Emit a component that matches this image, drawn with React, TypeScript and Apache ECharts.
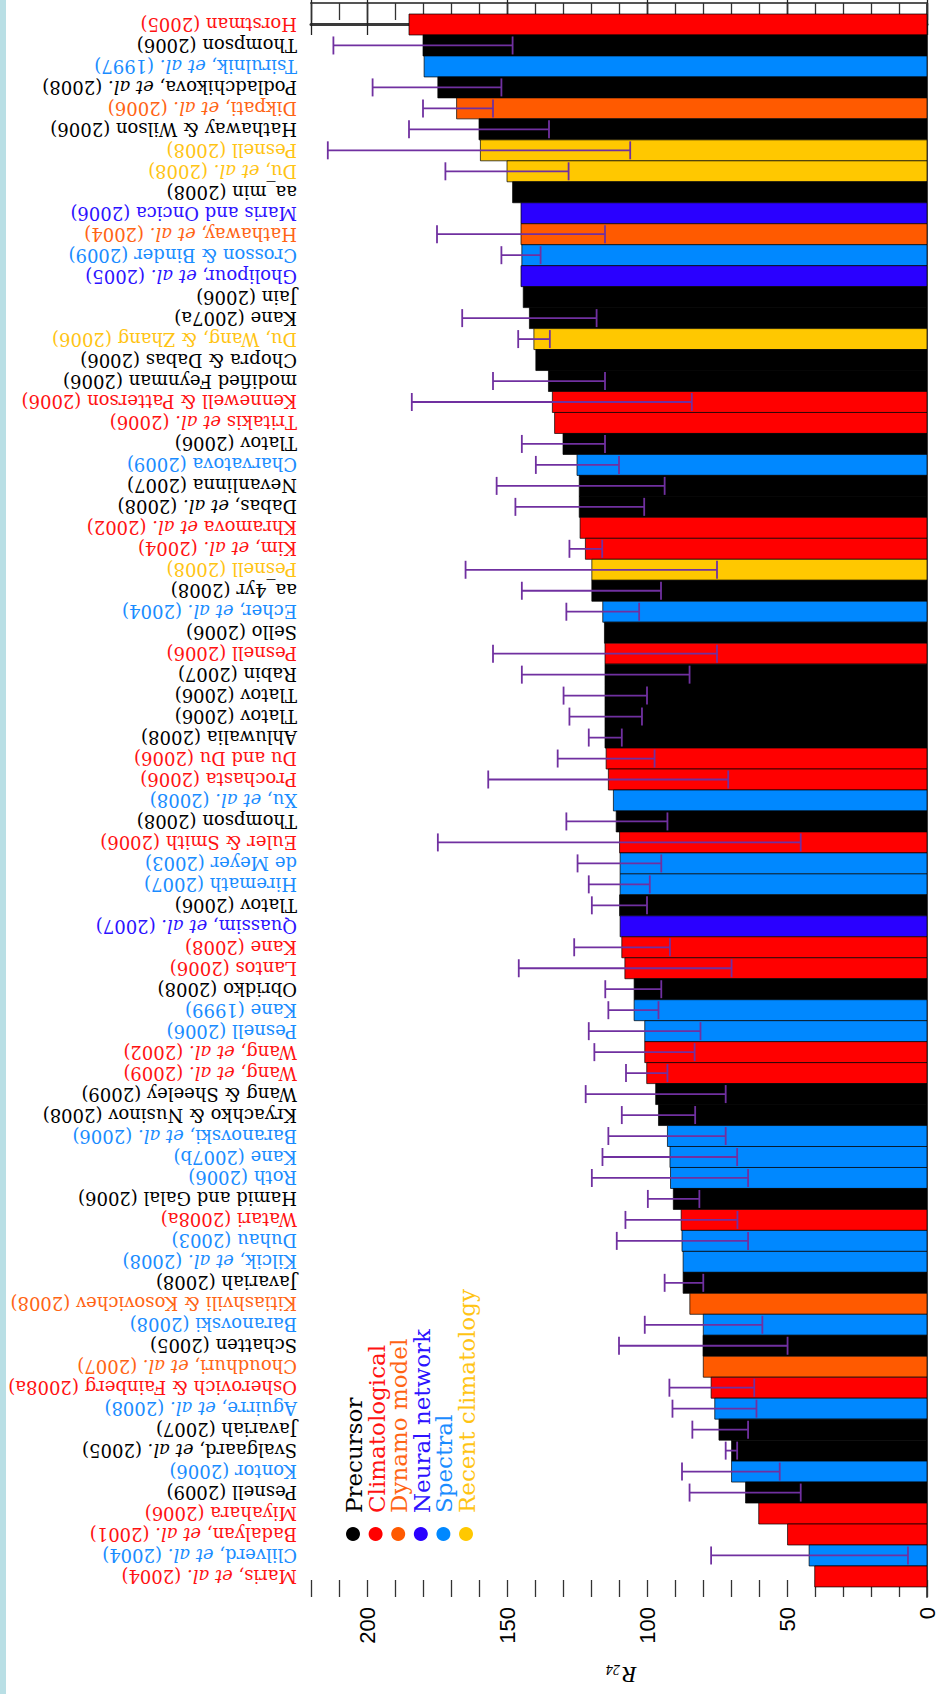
import React, { useEffect, useRef } from "react";
import * as echarts from "echarts";

const names = [
  "Horstman (2005)", "Thompson (2006)", "Tsirulnik, et al. (1997)", "Podladchikova, et al. (2008)",
  "Dikpati, et al. (2006)", "Hathaway & Wilson (2006)", "Pesnell (2008)", "Du, et al. (2008)",
  "aa_min (2008)", "Maris and Oncica (2006)", "Hathaway, et al. (2004)", "Crosson & Binder (2009)",
  "Gholipour, et al. (2005)", "Jain (2006)", "Kane (2007a)", "Du, Wang, & Zhang (2006)",
  "Chopra & Dabas (2006)", "modified Feynman (2006)", "Kennewell & Patterson (2006)", "Tritakis et al. (2006)",
  "Tlatov (2006)", "Charvatova (2009)", "Nevanlinna (2007)", "Dabas, et al. (2008)",
  "Khramova et al. (2002)", "Kim, et al. (2004)", "Pesnell (2008)", "aa_4yr (2008)",
  "Echer, et al. (2004)", "Sello (2006)", "Pesnell (2006)", "Rabin (2007)",
  "Tlatov (2006)", "Tlatov (2006)", "Ahluwalia (2008)", "Du and Du (2006)",
  "Prochasta (2006)", "Xu, et al. (2008)", "Thompson (2008)", "Euler & Smith (2006)",
  "de Meyer (2003)", "Hiremath (2007)", "Tlatov (2006)", "Quassim, et al. (2007)",
  "Kane (2008)", "Lantos (2006)", "Obridko (2008)", "Kane (1999)",
  "Pesnell (2006)", "Wang, et al. (2002)", "Wang, et al. (2009)", "Wang & Sheeley (2009)",
  "Kryachko & Nusinov (2008)", "Baranovski, et al. (2006)", "Kane (2007b)", "Roth (2006)",
  "Hamid and Galal (2006)", "Watari (2008a)", "Duhau (2003)", "Kilcik, et al. (2008)",
  "Javariah (2008)", "Kitiashvili & Kosovichev (2008)", "Baranovski (2008)", "Schatten (2005)",
  "Choudhuri, et al. (2007)", "Osherovich & Fainberg (2008a)", "Aguirre, et al. (2008)", "Javariah (2007)",
  "Svalgaard, et al. (2005)", "Kontor (2006)", "Pesnell (2009)", "Miyahara (2006)",
  "Badalyan, et al. (2001)", "Clilverd, et al. (2004)", "Maris, et al. (2004)"
];

// 0 Precursor, 1 Climatological, 2 Dynamo model, 3 Neural network, 4 Spectral, 5 Recent climatology
const groups = [
  1, 0, 4, 0, 2, 0, 5, 5, 0, 3, 2, 4, 3, 0, 0, 5, 0, 0, 1, 1,
  0, 4, 0, 0, 1, 1, 5, 0, 4, 0, 1, 0, 0, 0, 0, 1, 1, 4, 0, 1,
  4, 4, 0, 3, 1, 1, 0, 4, 4, 1, 1, 0, 0, 4, 4, 4, 0, 1, 4, 4,
  0, 2, 4, 0, 2, 1, 4, 0, 0, 4, 0, 1, 1, 4, 1
];

const values = [
  185, 180, 179.6, 174.7, 168, 160, 159.5, 150, 148, 145,
  145, 144.7, 145, 144.2, 142, 140.4, 139.7, 135.2, 133.8, 133,
  130, 125, 124.2, 124.2, 123.9, 122, 119.7, 119.7, 115.8, 115.2,
  115, 115, 115, 115, 115, 114.6, 113.8, 112, 111, 109.8,
  109.6, 109.6, 109.8, 109.6, 109, 107.9, 104.6, 104.6, 100.8, 100.8,
  100.1, 96.9, 95.9, 92.7, 91.8, 91.6, 90.6, 87.8, 87.5, 87.1,
  87.1, 84.7, 79.9, 80, 79.9, 77.1, 75.8, 74.3, 69.8, 69.8,
  64.8, 60.1, 49.8, 42.1, 40.1
];

const errUpper = [
  null, 212, null, 198, 180, 185, 214, 172, null, null,
  175, 152, null, null, 166, 146, null, 155, 184, null,
  144.7, 139.7, 153.7, 147, null, 127.7, 164.8, 144.7, 128.8, null,
  155, 144.7, 129.8, 127.7, 120.8, 131.9, 156.7, null, 128.8, 174.7,
  124.8, 120.8, 119.7, null, 126, 145.8, 114.9, 113.8, 120.8, 118.8,
  107.5, 121.9, 109, 113.8, 115.9, 119.7, 99.7, 107.7, 110.8, null,
  93.7, null, 100.8, 110, null, 92, 90.9, 83.8, 71.9, 87.5,
  84.8, null, null, 77.1, null
];

const errLower = [
  null, 148, null, 152, 155, 135, 106, 128, null, null,
  115, 138, null, null, 118, 134.7, null, 115, 84, null,
  115, 110, 93.7, 101, null, 116, 75, 95, 102.8, null,
  75, 84.8, 100, 101.8, 109, 97.3, 71, null, 92.7, 45.1,
  94.9, 99, 100, null, 91.8, 69.8, 94.9, 95.9, 80.9, 83,
  92.7, 71.9, 82.8, 71.9, 67.8, 63.9, 81.3, 67.7, 63.9, null,
  79.9, null, 58.8, 49.8, null, 61.7, 60.9, 63.9, 67.8, 52.6,
  45.1, null, null, 6.8, null
];

const groupNames = ["Precursor", "Climatological", "Dynamo model", "Neural network", "Spectral", "Recent climatology"];
const barColors = ["#000000", "#ff0000", "#ff5a00", "#2a00ff", "#0088ff", "#ffc800"];
const textColors = ["#000000", "#ff1212", "#ff6414", "#2c12ff", "#1a8cff", "#ffc414"];

const axisMin = 0;
const axisMax = 220;
const majorInterval = 50;
const minorInterval = 10;

const LABEL_FONT = "DejaVu Serif";

function toRich(name: string): string {
  const parts = name.split("et al.");
  let out = "";
  parts.forEach((p, k) => {
    if (p.length) out += "{n|" + p + "}";
    if (k < parts.length - 1) out += "{i|et al.}";
  });
  return out;
}

export default function App() {
  const ref = useRef<HTMLDivElement>(null);
  useEffect(() => {
    if (!ref.current) return;
    const chart = echarts.init(ref.current, null, { renderer: "svg" });

    const baseAxis = {
      type: "value",
      min: axisMin,
      max: axisMax,
      inverse: true,
      splitLine: { show: false },
    };

    const option: any = {
      animation: false,
      backgroundColor: "#ffffff",
      grid: { left: 311, right: 1.4, top: 3, bottom: 97, containLabel: false },
      xAxis: [
        {
          ...baseAxis,
          position: "bottom",
          interval: majorInterval,
          axisLine: { show: true, lineStyle: { color: "#3a3a3a", width: 3 } },
          axisTick: { show: true, inside: true, length: 32, lineStyle: { color: "#222", width: 1.3 } },
          axisLabel: {
            show: true,
            rotate: 90,
            margin: 10,
            fontSize: 22,
            fontFamily: "Liberation Sans",
            color: "#000",
            formatter: (v: number) => (v % majorInterval === 0 ? String(v) : ""),
          },
        },
        {
          ...baseAxis,
          position: "bottom",
          interval: minorInterval,
          axisLine: { show: false },
          axisTick: { show: true, inside: true, length: 17, lineStyle: { color: "#333", width: 1.3 } },
          axisLabel: { show: false },
        },
        {
          ...baseAxis,
          position: "top",
          interval: majorInterval,
          axisLine: { show: true, lineStyle: { color: "#555", width: 2 } },
          axisTick: { show: true, inside: true, length: 32, lineStyle: { color: "#222", width: 1.3 } },
          axisLabel: { show: false },
        },
        {
          ...baseAxis,
          position: "top",
          interval: minorInterval,
          axisLine: { show: false },
          axisTick: { show: true, inside: true, length: 17, lineStyle: { color: "#333", width: 1.3 } },
          axisLabel: { show: false },
        },
      ],
      yAxis: {
        type: "value",
        min: -1.025,
        max: 74.98,
        inverse: true,
        position: "left",
        axisLine: { show: true, lineStyle: { color: "#555", width: 2 } },
        axisTick: { show: false },
        axisLabel: { show: false },
        splitLine: { show: false },
      },
      series: [
        {
          type: "custom",
          xAxisIndex: 0,
          yAxisIndex: 0,
          clip: false,
          encode: { x: 0, y: 1 },
          data: values.map((v, i) => [v, i]),
          renderItem: (params: any, api: any) => {
            const i = params.dataIndex;
            const v = values[i];
            const g = groups[i];
            const cs = params.coordSys;
            const right = cs.x + cs.width;
            const top = api.coord([v, i - 0.5]);
            const bot = api.coord([v, i + 0.5]);
            const cy = api.coord([v, i])[1];
            const children: any[] = [];
            children.push({
              type: "rect",
              shape: { x: top[0], y: top[1], width: right - top[0], height: bot[1] - top[1] },
              style: { fill: barColors[g], stroke: "rgba(0,0,0,0.7)", lineWidth: 1 },
            });
            const hi = errUpper[i];
            const lo = errLower[i];
            if (hi !== null && lo !== null) {
              const xa = api.coord([hi, i])[0];
              const xb = api.coord([lo, i])[0];
              const es = { stroke: "#7030a0", lineWidth: 1.8 };
              children.push({ type: "line", shape: { x1: xa, y1: cy, x2: xb, y2: cy }, style: es });
              children.push({ type: "line", shape: { x1: xa, y1: cy - 9, x2: xa, y2: cy + 9 }, style: es });
              children.push({ type: "line", shape: { x1: xb, y1: cy - 9, x2: xb, y2: cy + 9 }, style: es });
            }
            const col = textColors[g];
            children.push({
              type: "text",
              x: cs.x - 14,
              y: cy,
              rotation: Math.PI,
              style: {
                text: toRich(names[i]),
                align: "left",
                verticalAlign: "middle",
                fill: col,
                fontSize: 18,
                fontFamily: LABEL_FONT,
                rich: {
                  n: { fontSize: 18, fontFamily: LABEL_FONT, fill: col },
                  i: { fontSize: 18, fontFamily: LABEL_FONT, fontStyle: "italic", fill: col },
                },
              },
            });
            return { type: "group", children };
          },
        },
      ],
      graphic: [
        { type: "rect", left: 0, top: 0, shape: { x: 0, y: 0, width: 6, height: 1694 }, style: { fill: "#b9dfe5" }, silent: true },
        ...groupNames.map((nm, k) => ({
          type: "circle",
          x: 353 + 22.6 * k,
          y: 1534,
          shape: { cx: 0, cy: 0, r: 7 },
          style: { fill: barColors[k] },
          silent: true,
        })),
        ...groupNames.map((nm, k) => ({
          type: "text",
          x: 354 + 22.6 * k,
          y: 1513,
          rotation: Math.PI / 2,
          style: {
            text: nm,
            align: "left",
            verticalAlign: "middle",
            fill: textColors[k],
            fontSize: 23,
            fontFamily: LABEL_FONT,
          },
          silent: true,
        })),
        {
          type: "group",
          x: 622,
          y: 1675,
          rotation: Math.PI,
          children: [
            {
              type: "text",
              x: 0,
              y: 0,
              style: { text: "R", align: "right", verticalAlign: "middle", fontSize: 24, fontStyle: "italic", fontFamily: "Liberation Serif", fill: "#000" },
            },
            {
              type: "text",
              x: 2,
              y: 6,
              style: { text: "24", align: "left", verticalAlign: "middle", fontSize: 14, fontStyle: "italic", fontFamily: "Liberation Serif", fill: "#000" },
            },
          ],
        },
      ],
    };

    chart.setOption(option);
    return () => chart.dispose();
  }, []);

  return (
    <div
      ref={ref}
      style={{ position: "fixed", left: 0, top: 0, width: 938, height: 1694, background: "#fff" }}
    />
  );
}
